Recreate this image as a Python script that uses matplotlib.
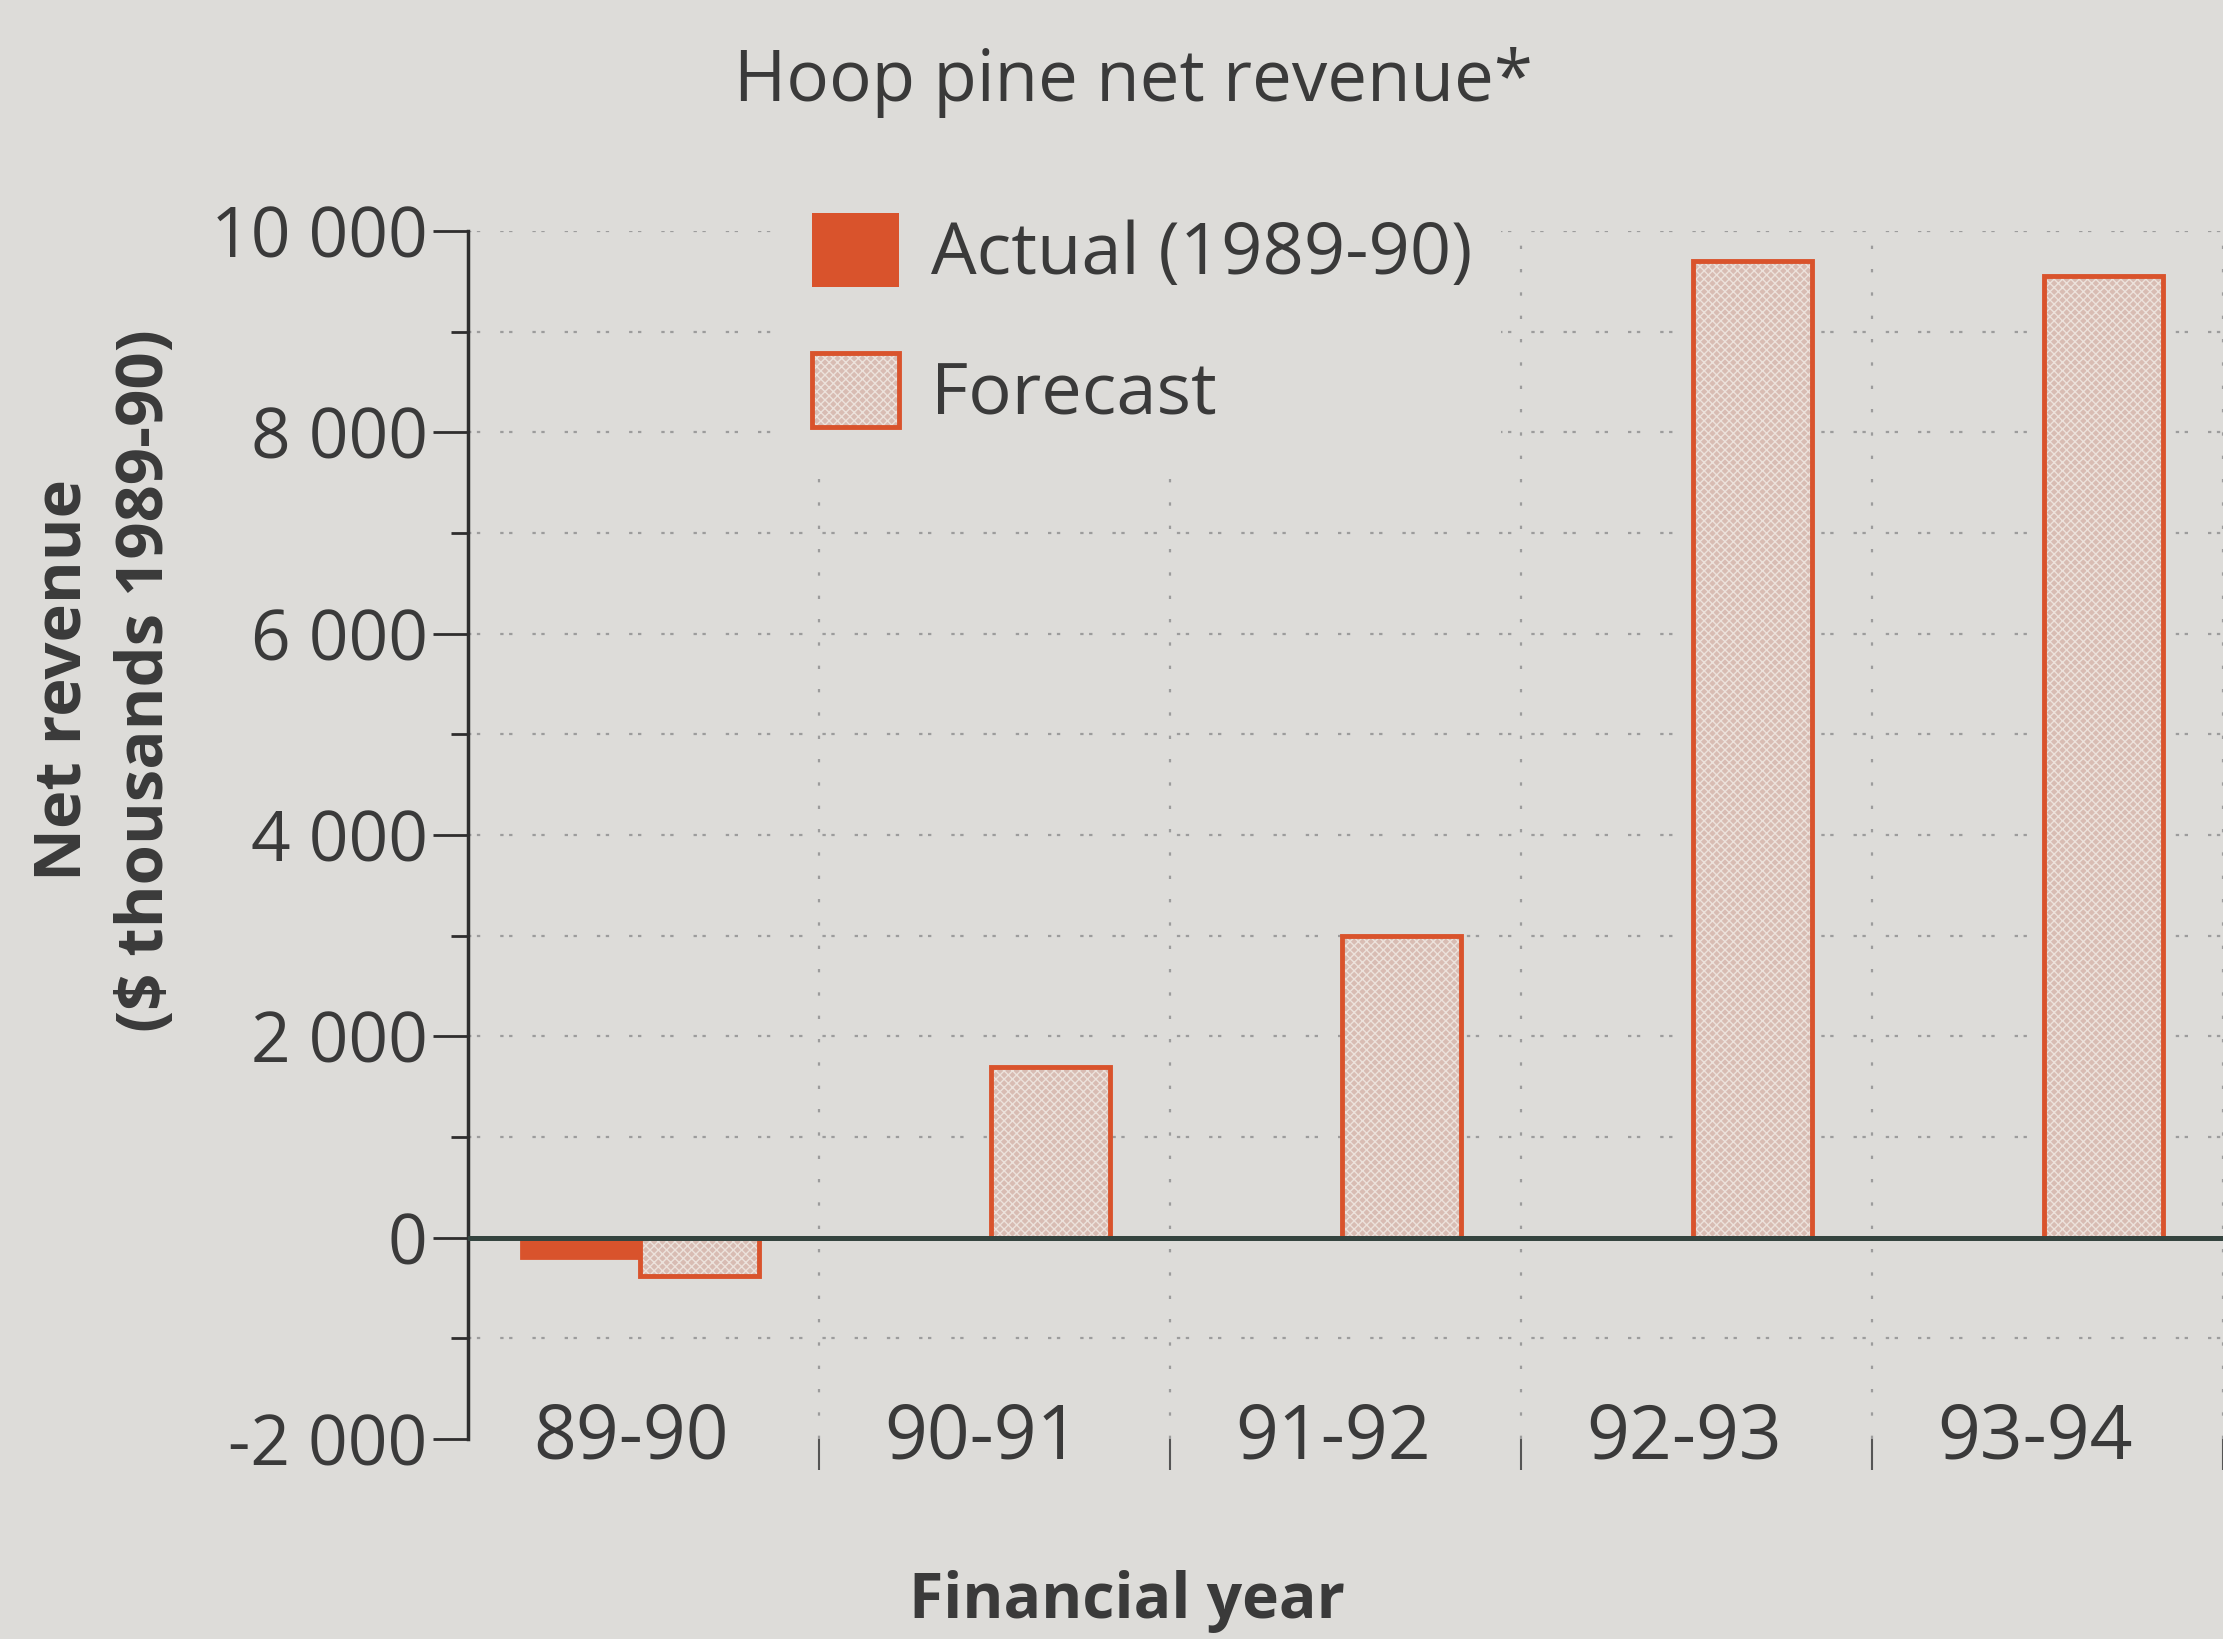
import numpy as np
import matplotlib
matplotlib.use('Agg')
import matplotlib.pyplot as plt
import matplotlib.transforms as mtrans

# data ($ thousands 1989-90)
years = ['89-90', '90-91', '91-92', '92-93', '93-94']
actual = [-200, np.nan, np.nan, np.nan, np.nan]
forecast = [-380, 1700, 3000, 9700, 9550]
ytick_vals = [-2000, 0, 2000, 4000, 6000, 8000, 10000]
ytick_labels = ['-2 000', '0', '2 000', '4 000', '6 000', '8 000', '10 000']

BG = '#dddcd9'
RED = '#d9532c'
PINK = '#d8bcb3'
TXT = '#3a3a3a'

plt.rcParams['font.family'] = ['Open Sans', 'DejaVu Sans']

fig = plt.figure(figsize=(22.23, 16.39), dpi=100)
fig.set_facecolor(BG)
ax = fig.add_axes([0.2105, 0.122, 0.7895, 0.737])
ax.set_facecolor(BG)

x = np.arange(len(years))
w = 0.34

ax.bar(x - 0.18, actual, w, color=RED, edgecolor=RED, linewidth=2, zorder=3)
hb = ax.bar(x + 0.16, forecast, w, color=PINK, edgecolor='#ece2dc', hatch='xxxx',
            linewidth=0, zorder=3)
ob = ax.bar(x + 0.16, forecast, w, fill=False, edgecolor=RED, linewidth=3.5, zorder=4)
ab = ax.bar([0], [0], 0, color=RED)  # dummy for legend handle

ax.axhline(0, color='#34443f', linewidth=3.6, zorder=5)

ax.set_xlim(-0.5, 4.47)
ax.set_ylim(-2000, 10000)

# y axis
ax.set_yticks(ytick_vals)
ax.set_yticklabels(ytick_labels)
ax.set_yticks(np.arange(-1000, 10000, 2000), minor=True)
ax.tick_params(axis='y', which='major', length=25, width=2, pad=4,
               labelsize=50, colors='#2e2e2e', labelcolor=TXT)
ax.tick_params(axis='y', which='minor', length=12, width=2, colors='#2e2e2e')

# x axis: labels centred on categories, small dividers between
ax.set_xticks(x)
ax.set_xticklabels(years)
ax.set_xticks(list(x[:-1] + 0.5) + [4.5], minor=True)
ax.tick_params(axis='x', which='major', length=0, pad=0, labelsize=54, labelcolor=TXT)
ax.tick_params(axis='x', which='minor', length=22, width=1.5, pad=0, colors='#555555')
shift = mtrans.ScaledTranslation(-0.12, 0, fig.dpi_scale_trans)
for lbl in ax.get_xticklabels():
    lbl.set_verticalalignment('center')
    lbl.set_transform(lbl.get_transform() + shift)

for s in ['top', 'right', 'bottom']:
    ax.spines[s].set_visible(False)
ax.spines['left'].set_linewidth(2.5)
ax.spines['left'].set_color('#2e2e2e')

# dotted grid
ax.grid(True, axis='y', which='both', color='#9c9c9c', linewidth=1.6,
        linestyle=(0, (1.5, 2.5, 1.5, 9)), zorder=1)
ax.grid(True, axis='x', which='minor', color='#9c9c9c', linewidth=1.6,
        linestyle=(0, (1.5, 9)), zorder=1)
ax.yaxis.get_major_ticks()[0].gridline.set_visible(False)

leg = ax.legend([ab, (hb, ob)], ['Actual (1989-90)', 'Forecast'],
                loc='upper left', bbox_to_anchor=(783 / 2223, 1 - 184 / 1639),
                bbox_transform=fig.transFigure, fontsize=52, frameon=True,
                handlelength=1.2, handleheight=1.2, handletextpad=0.45,
                labelspacing=0.85, borderpad=0.4, borderaxespad=0, fancybox=False)
leg.get_frame().set_facecolor(BG)
leg.get_frame().set_edgecolor('none')
leg.get_frame().set_alpha(1)
leg.set_zorder(6)
for t in leg.get_texts():
    t.set_color(TXT)

fig.text(0.510, 0.95, 'Hoop pine net revenue*', ha='center', va='center',
         fontsize=51, color=TXT)
fig.text(0.029, 0.585, 'Net revenue', rotation=90, ha='center', va='center',
         fontsize=47, fontweight='bold', color=TXT)
fig.text(0.066, 0.585, '($ thousands 1989-90)', rotation=90, ha='center', va='center',
         fontsize=47, fontweight='bold', color=TXT)
fig.text(0.507, 0.0226, 'Financial year', ha='center', va='center',
         fontsize=45, fontweight='bold', color=TXT)

fig.savefig('out.png', dpi=100, facecolor=BG)
